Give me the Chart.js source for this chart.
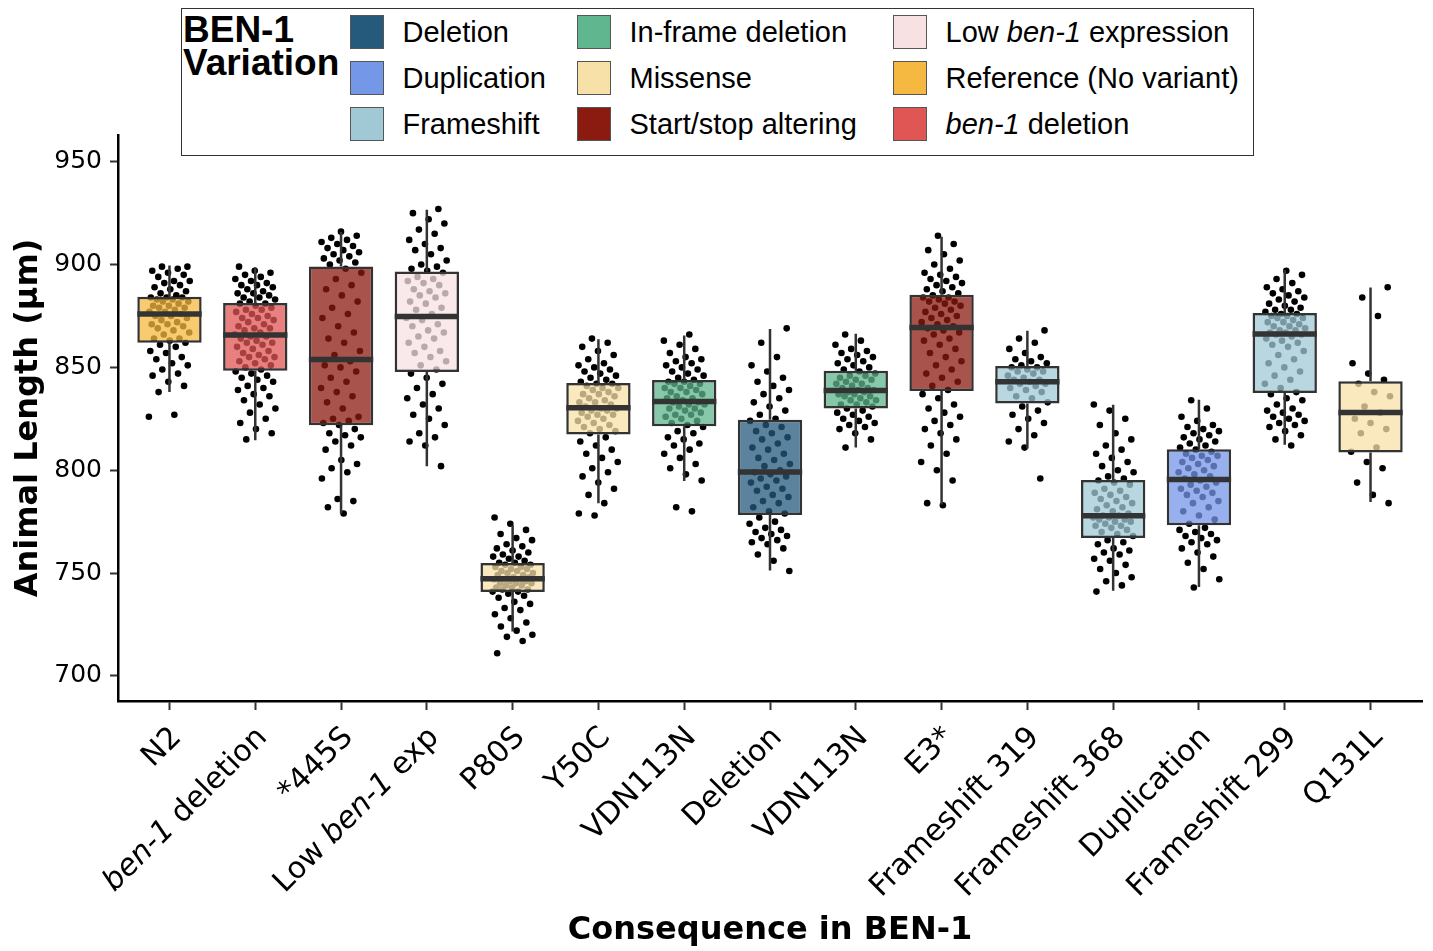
<!DOCTYPE html>
<html lang="en">
<head>
  <meta charset="UTF-8" />
  <title>Animal length by BEN-1 variation</title>
  <script src="https://cdn.jsdelivr.net/npm/chart.js"></script>
  <style>
    body {
      margin: 0;
      background: #fff;
    }
    #wrap {
      position: relative;
      width: 1433px;
      height: 951px;
    }
    #legend {
      position: absolute;
      left: 181px;
      top: 8px;
      width: 1071px;
      height: 146px;
      border: 1.5px solid #333;
      background: #fff;
      font-family: "Liberation Sans", Arial, sans-serif;
      color: #000;
    }
    #legend .title {
      position: absolute;
      left: 1px;
      top: 4px;
      font-weight: bold;
      font-size: 37px;
      line-height: 33px;
    }
    #legend .item {
      position: absolute;
      display: flex;
      align-items: center;
      font-size: 29px;
      line-height: 34px;
      white-space: nowrap;
    }
    #legend .swatch {
      width: 34px;
      height: 34px;
      box-sizing: border-box;
      border: 1.5px solid #555;
      margin-right: 19px;
    }
  </style>
</head>
<body>
  <div id="wrap">
    <canvas id="chart" width="1433" height="951"></canvas>
    <div id="legend">
      <div class="title">BEN-1<br>Variation</div>
    </div>
  </div>

  <script>
    // x categories and the variation class of each
    const categories = ["N2", "ben-1 deletion", "*445S", "Low ben-1 exp", "P80S", "Y50C", "VDN113N", "Deletion",
      "VDN113N", "E3*", "Frameshift 319", "Frameshift 368", "Duplication", "Frameshift 299", "Q131L"];
    const variation = ["Reference (No variant)", "ben-1 deletion", "Start/stop altering", "Low ben-1 expression",
      "Missense", "Missense", "In-frame deletion", "Deletion", "In-frame deletion", "Start/stop altering",
      "Frameshift", "Frameshift", "Duplication", "Frameshift", "Missense"];

    // box statistics (µm)
    const q1 = [862, 848.4, 821.9, 847.8, 740.8, 817.4, 821.4, 778.2, 830.0, 838.5, 832.5, 767.1, 773.2, 837.6, 808.6];
    const median = [876, 865.8, 853.8, 874.8, 747.3, 830.4, 833.4, 799.1, 838.8, 869.4, 843.0, 777.9, 795.5, 866.2, 828.1];
    const q3 = [884.4, 881.3, 899.1, 896.6, 754.9, 842.4, 843.9, 824.6, 848.4, 885.3, 850.7, 795.3, 810.2, 876.4, 843.3];
    const whiskerLow = [838, 814.6, 779, 802, 721.6, 784, 794.8, 751.3, 811, 783.3, 810.6, 741.4, 743.2, 812.4, 784.5];
    const whiskerHigh = [899.6, 898.7, 915.8, 926.6, 773.2, 863.7, 865.5, 868.7, 866.4, 913.5, 867.8, 831.8, 834.3, 897.3, 888.8];

    const yTicks = [700, 750, 800, 850, 900, 950];

    // individual animals (estimated from the jittered points)
    const n2 = [826, 827, 838, 841, 843, 846, 847, 849, 851, 852, 854, 855, 857, 858, 860, 861,
      862, 863, 864, 864, 866, 867, 868, 869, 870, 871, 871, 872, 873, 874, 875, 875,
      876, 877, 877, 878, 879, 879, 880, 880, 881, 882, 882, 883, 883, 884, 884, 884,
      885, 886, 887, 888, 889, 890, 891, 892, 892, 894, 895, 896, 897, 898, 899, 899];
    const ben1Del = [815, 818, 820, 823, 825, 828, 830, 832, 834, 836, 837, 839, 840, 841, 843, 844, 845, 846, 847, 848,
      849, 850, 851, 852, 853, 854, 855, 855, 856, 857, 858, 859, 860, 861, 862, 862, 863, 864, 865, 865,
      866, 867, 868, 869, 869, 870, 871, 872, 873, 874, 874, 875, 876, 877, 878, 878, 879, 880, 881, 881,
      882, 883, 884, 884, 885, 886, 886, 887, 888, 889, 890, 890, 891, 892, 893, 894, 895, 896, 897, 899];
    const s445 = [779, 782, 785, 786, 796, 799, 801, 803, 805, 810, 812, 814, 816, 817, 818, 820,
      822, 823, 824, 825, 826, 830, 833, 836, 838, 840, 843, 845, 848, 850, 851, 853,
      856, 858, 862, 864, 867, 870, 874, 876, 879, 882, 885, 888, 890, 893, 896, 898,
      900, 901, 902, 903, 904, 905, 906, 907, 908, 909, 910, 911, 912, 913, 914, 916];
    const lowExp = [802, 812, 814, 816, 818, 822, 825, 827, 830, 832, 835, 837, 840, 842, 845, 847,
      849, 851, 853, 855, 857, 858, 860, 862, 864, 865, 867, 868, 870, 871, 873, 874,
      876, 878, 879, 881, 882, 884, 885, 886, 887, 888, 890, 891, 892, 893, 894, 896,
      897, 898, 899, 900, 902, 905, 907, 908, 910, 912, 915, 917, 920, 922, 925, 927];
    const p80s = [711, 717, 719, 720, 722, 724, 726, 728, 730, 732, 733, 735, 736, 738, 739, 740,
      741, 741, 742, 742, 743, 743, 744, 744, 745, 745, 745, 746, 746, 747, 747, 747,
      748, 748, 749, 749, 750, 750, 751, 751, 752, 752, 753, 753, 754, 754, 755, 755,
      756, 757, 758, 758, 759, 760, 761, 762, 763, 764, 766, 767, 769, 771, 774, 777];
    const y50c = [778, 779, 784, 788, 791, 794, 797, 799, 801, 804, 806, 808, 810, 812, 814, 816,
      818, 819, 820, 821, 822, 823, 824, 825, 826, 827, 827, 828, 829, 829, 830, 830,
      831, 832, 833, 833, 834, 835, 836, 837, 837, 838, 839, 840, 840, 841, 842, 842,
      843, 844, 845, 846, 847, 848, 849, 850, 851, 852, 854, 856, 858, 860, 862, 864];
    const vdn113a = [780, 782, 795, 798, 801, 803, 806, 808, 810, 812, 813, 815, 816, 818, 819, 821,
      822, 823, 824, 825, 826, 827, 827, 828, 829, 830, 830, 831, 832, 832, 833, 833,
      834, 835, 835, 836, 837, 838, 838, 839, 840, 840, 841, 842, 842, 843, 843, 844,
      845, 846, 847, 848, 849, 850, 851, 852, 853, 854, 855, 857, 859, 861, 863, 866];
    const deletion = [751, 756, 759, 762, 764, 765, 766, 767, 768, 769, 770, 771, 772, 774, 775, 777,
      779, 780, 782, 784, 785, 787, 788, 790, 791, 792, 794, 795, 796, 797, 798, 799,
      800, 802, 803, 805, 806, 808, 810, 811, 813, 815, 816, 818, 819, 821, 822, 824,
      825, 827, 829, 831, 833, 835, 837, 839, 841, 843, 845, 848, 851, 855, 862, 869];
    const vdn113b = [811, 815, 818, 820, 821, 822, 823, 824, 825, 826, 827, 828, 829, 830,
      831, 832, 832, 833, 834, 834, 835, 836, 836, 837, 837, 838, 838, 839,
      839, 840, 840, 841, 842, 842, 843, 844, 844, 845, 846, 846, 847, 848,
      849, 850, 851, 852, 853, 854, 855, 856, 857, 858, 859, 861, 863, 866];
    const e3stop = [783, 784, 795, 800, 804, 808, 812, 815, 818, 820, 822, 824, 826, 828, 830, 832, 835, 837,
      839, 841, 843, 845, 847, 849, 851, 853, 855, 857, 859, 861, 863, 864, 866, 867, 868, 869,
      870, 871, 872, 873, 874, 875, 876, 877, 878, 879, 880, 881, 882, 882, 883, 884, 884, 885,
      886, 887, 888, 889, 890, 891, 892, 893, 894, 895, 896, 898, 900, 902, 905, 907, 910, 914];
    const fs319 = [796, 811, 814, 817, 820, 823, 825, 827, 829, 831,
      833, 835, 836, 838, 839, 840, 841, 842, 842, 843,
      844, 844, 845, 846, 847, 848, 848, 849, 850, 850,
      851, 852, 853, 854, 855, 857, 859, 862, 864, 868];
    const fs368 = [741, 744, 746, 748, 750, 752, 754, 756, 757, 759, 760, 761, 762, 764, 765, 766,
      768, 769, 770, 771, 772, 773, 773, 774, 775, 775, 776, 776, 777, 777, 778, 778,
      779, 780, 781, 782, 783, 784, 785, 786, 787, 788, 789, 790, 791, 793, 794, 795,
      796, 797, 799, 800, 802, 804, 806, 808, 810, 812, 815, 818, 822, 825, 829, 832];
    const duplication = [743, 747, 752, 755, 758, 760, 762, 764, 765, 766, 767, 768, 769, 770, 771, 772,
      774, 776, 778, 780, 782, 784, 785, 787, 788, 789, 790, 791, 792, 793, 794, 795,
      796, 797, 798, 799, 800, 801, 802, 803, 804, 805, 806, 807, 807, 808, 809, 810,
      811, 812, 813, 814, 815, 816, 817, 818, 819, 820, 821, 822, 824, 826, 830, 834];
    const fs299 = [812, 815, 817, 819, 821, 822, 823, 824, 825, 826, 827, 828, 829, 830, 832, 834, 835, 837,
      838, 840, 842, 844, 846, 848, 850, 852, 854, 856, 858, 860, 861, 862, 863, 864, 865, 866,
      866, 867, 867, 868, 868, 869, 870, 870, 871, 872, 872, 873, 874, 874, 875, 875, 876, 876,
      877, 878, 878, 879, 880, 881, 882, 883, 884, 885, 886, 887, 888, 889, 891, 893, 895, 897];
    const q131l = [784, 788, 794, 801, 804, 809, 811, 818, 820, 823, 825, 828, 831, 836, 838, 842,
      844, 847, 852, 875, 884, 889];

    const pointValues = [n2, ben1Del, s445, lowExp, p80s, y50c, vdn113a, deletion, vdn113b, e3stop,
      fs319, fs368, duplication, fs299, q131l];

    // legend, in column order
    const legendLabels = ["Deletion", "Duplication", "Frameshift", "In-frame deletion", "Missense",
      "Start/stop altering", "Low ben-1 expression", "Reference (No variant)", "ben-1 deletion"];

    const colors = {
      "Deletion": "#255a7c",
      "Duplication": "#7597e8",
      "Frameshift": "#a0c9d5",
      "In-frame deletion": "#5fb68f",
      "Missense": "#f8e0a9",
      "Start/stop altering": "#8b1a10",
      "Low ben-1 expression": "#f8e1e3",
      "Reference (No variant)": "#f5b942",
      "ben-1 deletion": "#e05654"
    };

    function withAlpha(hex, a) {
      const n = parseInt(hex.slice(1), 16);
      return `rgba(${n >> 16}, ${(n >> 8) & 255}, ${n & 255}, ${a})`;
    }

    // deterministic horizontal spread for the points (like geom_jitter)
    function jitter(i, j) {
      return (((j * 0.6180339 + i * 0.2813) % 1) - 0.5) * 0.48;
    }

    // legend
    const legend = document.getElementById("legend");
    const colLeft = [167.5, 394.5, 710.5];
    const rowTop = [5.5, 51.5, 97.5];
    legendLabels.forEach((label, k) => {
      const item = document.createElement("div");
      item.className = "item";
      item.style.left = colLeft[Math.floor(k / 3)] + "px";
      item.style.top = rowTop[k % 3] + "px";
      item.innerHTML = `<span class="swatch" style="background:${colors[label]}"></span>` +
        `<span>${label.replace("ben-1", "<i>ben-1</i>")}</span>`;
      legend.appendChild(item);
    });

    const scatterData = [];
    pointValues.forEach((vals, i) => {
      vals.forEach((v, j) => scatterData.push({ x: i + 1 + jitter(i, j), y: v }));
    });
    const boxData = categories.map((c, i) => ({ x: i + 1, y: [q1[i], q3[i]] }));

    // whiskers and median lines on top of the boxes
    const boxExtras = {
      id: "boxExtras",
      afterDatasetsDraw(chart) {
        const { ctx, scales: { y } } = chart;
        const bars = chart.getDatasetMeta(1).data;
        ctx.save();
        ctx.strokeStyle = "#333";
        ctx.lineCap = "butt";
        bars.forEach((bar, i) => {
          const px = bar.x;
          ctx.lineWidth = 2.5;
          ctx.beginPath();
          ctx.moveTo(px, y.getPixelForValue(q3[i]));
          ctx.lineTo(px, y.getPixelForValue(whiskerHigh[i]));
          ctx.moveTo(px, y.getPixelForValue(q1[i]));
          ctx.lineTo(px, y.getPixelForValue(whiskerLow[i]));
          ctx.stroke();
          ctx.lineWidth = 5.5;
          ctx.beginPath();
          ctx.moveTo(px - bar.width / 2, y.getPixelForValue(median[i]));
          ctx.lineTo(px + bar.width / 2, y.getPixelForValue(median[i]));
          ctx.stroke();
        });
        ctx.restore();
      }
    };

    // rotated category labels with italic gene names
    const xLabels = {
      id: "xLabels",
      afterDraw(chart) {
        const { ctx, chartArea, scales: { x } } = chart;
        ctx.save();
        ctx.fillStyle = "#000";
        ctx.textAlign = "left";
        ctx.textBaseline = "alphabetic";
        categories.forEach((label, i) => {
          const parts = label.split(/(ben-1)/).filter(Boolean);
          const fonts = parts.map(p => (p === "ben-1" ? "italic " : "") + '30px "DejaVu Sans"');
          let total = 0;
          const widths = parts.map((p, k) => {
            ctx.font = fonts[k];
            const w = ctx.measureText(p).width;
            total += w;
            return w;
          });
          ctx.save();
          ctx.translate(x.getPixelForValue(i + 1) + 13, chartArea.bottom + 37.5);
          ctx.rotate(-Math.PI / 4);
          let pos = -total;
          parts.forEach((p, k) => {
            ctx.font = fonts[k];
            ctx.fillText(p, pos, 0);
            pos += widths[k];
          });
          ctx.restore();
        });
        ctx.restore();
      }
    };

    new Chart(document.getElementById("chart"), {
      type: "scatter",
      data: {
        datasets: [
          {
            type: "scatter",
            data: scatterData,
            pointRadius: 3.3,
            pointBackgroundColor: "#000",
            pointBorderWidth: 0,
            order: 2
          },
          {
            type: "bar",
            data: boxData,
            backgroundColor: variation.map(v => withAlpha(colors[v], 0.75)),
            borderColor: "#333",
            borderWidth: 2.5,
            borderSkipped: false,
            barPercentage: 0.75,
            categoryPercentage: 1,
            order: 1
          }
        ]
      },
      options: {
        responsive: false,
        devicePixelRatio: 1,
        animation: false,
        layout: { padding: { top: 135, right: 11, left: 0, bottom: 0 } },
        plugins: {
          legend: { display: false },
          tooltip: { enabled: false }
        },
        scales: {
          x: {
            type: "linear",
            min: 0.4,
            max: 15.6,
            offset: false,
            afterBuildTicks: s => { s.ticks = categories.map((c, i) => ({ value: i + 1 })); },
            afterFit: s => { s.height = 250; },
            ticks: { display: false },
            grid: { offset: false, drawOnChartArea: false, tickLength: 9, tickWidth: 2, tickColor: "#333" },
            border: { color: "#000", width: 2.5 },
            title: {
              display: true,
              text: "Consequence in BEN-1",
              color: "#000",
              font: { family: "DejaVu Sans", size: 32, weight: "bold" },
              padding: { top: 1, bottom: 1 }
            }
          },
          y: {
            min: 687.8,
            max: 963,
            afterBuildTicks: s => { s.ticks = yTicks.map(v => ({ value: v })); },
            afterFit: s => { s.width = 118; },
            ticks: {
              color: "#000",
              padding: 8,
              font: { family: "DejaVu Sans", size: 25 }
            },
            grid: { drawOnChartArea: false, tickLength: 8, tickWidth: 2, tickColor: "#333" },
            border: { color: "#000", width: 2.5 },
            title: {
              display: true,
              text: "Animal Length (µm)",
              color: "#000",
              font: { family: "DejaVu Sans", size: 32, weight: "bold" },
              padding: { top: 9, bottom: 0 }
            }
          }
        }
      },
      plugins: [boxExtras, xLabels]
    });
  </script>
</body>
</html>
